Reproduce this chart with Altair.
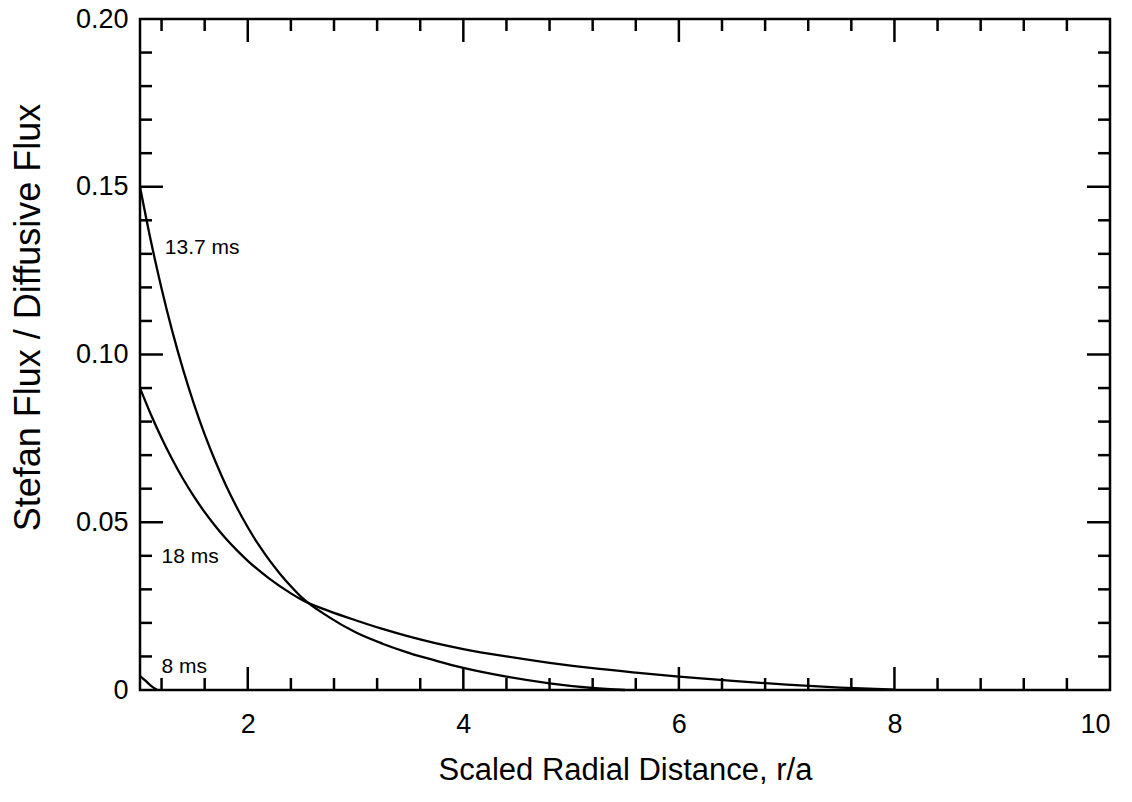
import altair as alt
import pandas as pd

# ---- data ----
x_137 = [1.0, 1.1, 1.2, 1.3, 1.4, 1.5, 1.6, 1.7, 1.8, 1.9, 2.0, 2.1, 2.2, 2.3, 2.4, 2.5, 2.75, 3.0, 3.25, 3.5, 3.75, 4.0, 4.4, 4.8, 5.2, 5.5]
y_137 = [0.150, 0.134, 0.1197, 0.1069, 0.0955, 0.0853, 0.0762, 0.0681, 0.0608, 0.0543, 0.0485, 0.0433, 0.0387, 0.0346, 0.0309, 0.0276,
         0.0218, 0.0172, 0.0138, 0.0110, 0.0087, 0.0066, 0.0040, 0.0020, 0.0006, 0.0]

x_18 = [1.0, 1.1, 1.2, 1.3, 1.4, 1.5, 1.6, 1.7, 1.8, 1.9, 2.0, 2.2, 2.4, 2.5, 2.75, 3.0, 3.25, 3.5, 3.75, 4.0, 4.4, 4.8, 5.2, 5.6, 6.0, 6.5, 7.0, 7.5, 8.0]
y_18 = [0.0900, 0.0822, 0.0751, 0.0687, 0.0629, 0.0577, 0.0530, 0.0488, 0.0450, 0.0416, 0.0385, 0.0332, 0.0288, 0.0269,
        0.0236, 0.0208, 0.0182, 0.0159, 0.0139, 0.0122, 0.0100, 0.0081, 0.0065, 0.0052, 0.0040, 0.0027, 0.0016, 0.0007, 0.0001]

x_8 = [1.0, 1.05, 1.1, 1.16]
y_8 = [0.0042, 0.0028, 0.0013, 0.0]

label_text = ["13.7 ms", "18 ms", "8 ms"]
label_x = [1.23, 1.20, 1.20]
label_y = [0.1317, 0.0396, 0.0069]

x_major = [2, 4, 6, 8]
x_minor = [1.2, 1.6, 2.4, 2.8, 3.2, 3.6, 4.4, 4.8, 5.2, 5.6, 6.4, 6.8, 7.2, 7.6, 8.4, 8.8, 9.2, 9.6]
y_major = [0.05, 0.10, 0.15]
y_minor = [0.01, 0.02, 0.03, 0.04, 0.06, 0.07, 0.08, 0.09, 0.11, 0.12, 0.13, 0.14, 0.16, 0.17, 0.18, 0.19]
x_labels = [2, 4, 6, 8, 10]
y_labels = [0, 0.05, 0.10, 0.15, 0.20]

W, H = 970, 671
FONT = "Liberation Sans"

rows = []
for name, xs_, ys_ in [("13.7 ms", x_137, y_137), ("18 ms", x_18, y_18), ("8 ms", x_8, y_8)]:
    for a, b in zip(xs_, ys_):
        rows.append({"x": a, "y": b, "series": name})
lines_df = pd.DataFrame(rows)

xs = alt.Scale(domain=[1, 10], nice=False, zero=False)
ys = alt.Scale(domain=[0, 0.2], nice=False, zero=False)

x_axis = alt.Axis(title="Scaled Radial Distance, r/a", values=x_labels,
                  ticks=False, domain=False, grid=False, labelPadding=21,
                  labelFontSize=27, titleFontSize=31, titlePadding=18,
                  labelFont=FONT, titleFont=FONT, titleFontWeight="normal",
                  labelColor="black", titleColor="black")
y_axis = alt.Axis(title="Stefan Flux / Diffusive Flux", values=y_labels,
                  labelExpr="datum.value == 0 ? '0' : format(datum.value, '.2f')",
                  ticks=False, domain=False, grid=False, labelPadding=12,
                  labelFontSize=27, titleFontSize=36, titlePadding=28, titleY=298,
                  labelFont=FONT, titleFont=FONT, titleFontWeight="normal",
                  labelColor="black", titleColor="black")

lines = alt.Chart(lines_df).mark_line(color="black", strokeWidth=2.3, interpolate="monotone").encode(
    x=alt.X("x:Q", scale=xs, axis=x_axis),
    y=alt.Y("y:Q", scale=ys, axis=y_axis),
    detail="series:N",
)

labels = alt.Chart(pd.DataFrame({"t": label_text, "x": label_x, "y": label_y})).mark_text(
    align="left", baseline="middle", fontSize=21, font=FONT, color="black"
).encode(x=alt.X("x:Q", scale=xs, axis=x_axis), y=alt.Y("y:Q", scale=ys, axis=y_axis), text="t:N")

def xticks(vals, length):
    df = pd.DataFrame({"x": vals})
    bottom = alt.Chart(df).mark_rule(color="black", strokeWidth=2.5).encode(
        x=alt.X("x:Q", scale=xs, axis=x_axis), y=alt.value(H), y2=alt.value(H - length))
    top = alt.Chart(df).mark_rule(color="black", strokeWidth=2.5).encode(
        x=alt.X("x:Q", scale=xs, axis=x_axis), y=alt.value(0), y2=alt.value(length))
    return [bottom, top]

def yticks(vals, length):
    df = pd.DataFrame({"y": vals})
    left = alt.Chart(df).mark_rule(color="black", strokeWidth=2.5).encode(
        y=alt.Y("y:Q", scale=ys, axis=y_axis), x=alt.value(0), x2=alt.value(length))
    right = alt.Chart(df).mark_rule(color="black", strokeWidth=2.5).encode(
        y=alt.Y("y:Q", scale=ys, axis=y_axis), x=alt.value(W), x2=alt.value(W - length))
    return [left, right]

layers = [lines, labels] + xticks(x_major, 23) + xticks(x_minor, 12) + yticks(y_major, 23) + yticks(y_minor, 12)

chart = alt.layer(*layers).properties(
    width=W, height=H,
    autosize=alt.AutoSizeParams(type="none"),
    padding={"left": 140, "top": 19, "right": 22, "bottom": 112},
    background="white",
).configure_view(stroke="black", strokeWidth=2.5)

chart.save("out.html", embed_options={"renderer": "svg", "actions": False})
